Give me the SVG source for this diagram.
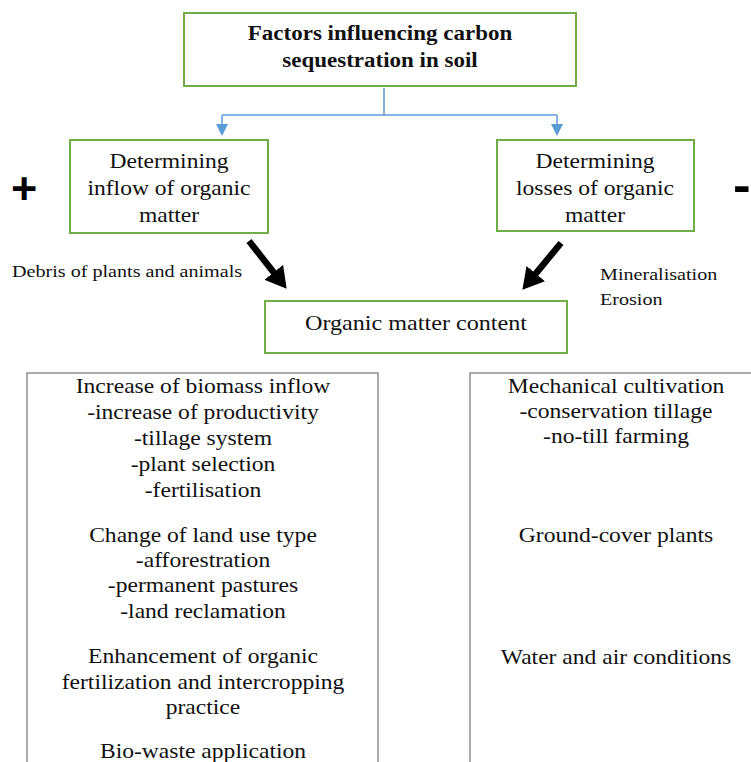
<svg xmlns="http://www.w3.org/2000/svg" width="751" height="762" viewBox="0 0 751 762">
<style>
.g{fill:#fff;stroke:#70AD47;stroke-width:2}
.k{fill:#fff;stroke:#7f7f7f;stroke-width:1.3}
.t{font-family:"Liberation Serif","Times New Roman",Tinos,serif;font-size:20.5px;fill:#111;text-anchor:middle}
.b{font-weight:bold;font-size:20px}
.s{font-family:"Liberation Serif","Times New Roman",Tinos,serif;font-size:17.5px;fill:#111}
.sym{font-family:"Liberation Sans",Arial,sans-serif;font-weight:bold;fill:#000}
.blue{fill:none;stroke:#5B9BD5;stroke-width:1.5}
.blk{stroke:#000;stroke-width:6.5;fill:none}
</style>
<defs>
<marker id="ab" markerUnits="userSpaceOnUse" markerWidth="12" markerHeight="12" refX="1" refY="6" orient="auto" viewBox="0 0 12 12"><path d="M0,0 L12,6 L0,12 z" fill="#5B9BD5"/></marker>
<marker id="ak" markerUnits="userSpaceOnUse" markerWidth="22" markerHeight="24" refX="2" refY="12" orient="auto" viewBox="0 0 22 24"><path d="M0,0 L21,12 L0,24 z" fill="#000"/></marker>
</defs>
<rect width="751" height="762" fill="#fff"/>
<g id="connectors">
<path class="blue" d="M384,88 V115 M222,115 H557"/>
<line class="blue" x1="222" y1="115" x2="222" y2="125" marker-end="url(#ab)"/>
<line class="blue" x1="557" y1="115" x2="557" y2="125" marker-end="url(#ab)"/>
<line class="blk" x1="249" y1="241" x2="274.9" y2="273.9" marker-end="url(#ak)"/>
<line class="blk" x1="561" y1="243" x2="534.5" y2="275.1" marker-end="url(#ak)"/>
</g>
<g id="title">
<rect class="g" x="184" y="13" width="392" height="73"/>
<g transform="translate(380,0) scale(1.15,1)">
<text class="t b" x="0" y="40">Factors influencing carbon</text>
<text class="t b" x="0" y="67">sequestration in soil</text>
</g>
</g>
<g id="inflow">
<rect class="g" x="70" y="140" width="198" height="93"/>
<g transform="translate(169,0) scale(1.15,1)">
<text class="t" x="0" y="168">Determining</text>
<text class="t" x="0" y="195">inflow of organic</text>
<text class="t" x="0" y="222">matter</text>
</g>
</g>
<g id="losses">
<rect class="g" x="497" y="140" width="197" height="91"/>
<g transform="translate(595,0) scale(1.15,1)">
<text class="t" x="0" y="168">Determining</text>
<text class="t" x="0" y="195">losses of organic</text>
<text class="t" x="0" y="222">matter</text>
</g>
</g>
<g id="content">
<rect class="g" x="265" y="301" width="302" height="52"/>
<g transform="translate(416,0) scale(1.15,1)">
<text class="t" x="0" y="330" style="font-size:21px">Organic matter content</text>
</g>
</g>
<g id="labels">
<g transform="translate(12,0) scale(1.15,1)"><text class="s" x="0" y="277">Debris of plants and animals</text></g>
<g transform="translate(600,0) scale(1.15,1)">
<text class="s" x="0" y="280">Mineralisation</text>
<text class="s" x="0" y="305">Erosion</text>
</g>
<text class="sym" x="11" y="204" style="font-size:45px">+</text>
<g transform="translate(733,202) scale(1.1,1)"><text class="sym" x="0" y="0" style="font-size:48px">-</text></g>
</g>
<g id="left-box">
<rect class="k" x="27" y="373" width="351" height="400"/>
<g transform="translate(203,0) scale(1.15,1)">
<text class="t" x="0" y="393">Increase of biomass inflow</text>
<text class="t" x="0" y="419">-increase of productivity</text>
<text class="t" x="0" y="445">-tillage system</text>
<text class="t" x="0" y="471">-plant selection</text>
<text class="t" x="0" y="497">-fertilisation</text>
<text class="t" x="0" y="542">Change of land use type</text>
<text class="t" x="0" y="567">-afforestration</text>
<text class="t" x="0" y="592">-permanent pastures</text>
<text class="t" x="0" y="618">-land reclamation</text>
<text class="t" x="0" y="663">Enhancement of organic</text>
<text class="t" x="0" y="689">fertilization and intercropping</text>
<text class="t" x="0" y="714">practice</text>
<text class="t" x="0" y="758">Bio-waste application</text>
</g>
</g>
<g id="right-box">
<rect class="k" x="470" y="373" width="300" height="400"/>
<g transform="translate(616,0) scale(1.15,1)">
<text class="t" x="0" y="393">Mechanical cultivation</text>
<text class="t" x="0" y="418">-conservation tillage</text>
<text class="t" x="0" y="443">-no-till farming</text>
<text class="t" x="0" y="542">Ground-cover plants</text>
<text class="t" x="0" y="664">Water and air conditions</text>
</g>
</g>
</svg>
